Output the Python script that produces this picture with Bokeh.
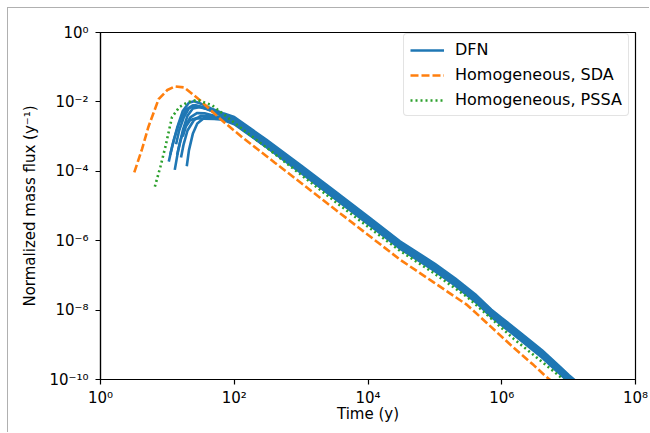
from bokeh.plotting import figure
from bokeh.models import FixedTicker, CustomJSTickFormatter, Legend, LegendItem
from bokeh.embed import file_html
from bokeh.resources import INLINE

# ---------------- data ----------------
# Homogeneous, SDA (orange dashed)
sda_t = [3.2, 4.2, 5.2, 7.4, 10, 13, 18, 31, 62, 132, 400, 1000, 3900,
         30500, 96000, 303000, 603000, 1.35e6, 3.0e6, 4.49e6, 5.6e6]
sda_f = [9.3e-5, 4.5e-4, 1.9e-3, 1.2e-2, 2.2e-2, 2.8e-2, 2.6e-2, 1.1e-2,
         3.2e-3, 9.5e-4, 1.8e-4, 4.6e-5, 6.0e-6, 2.8e-7, 6.3e-8, 1.41e-8,
         4.2e-9, 1.0e-9, 2.6e-10, 1.26e-10, 8.9e-11]

# Homogeneous, PSSA (green dotted)
pssa_t = [6.5, 7.9, 9.3, 11.7, 15.1, 20, 28, 47, 132, 400, 1000, 3900,
          30500, 96000, 303000, 676000, 1.51e6, 3.8e6, 7.6e6, 8.9e6]
pssa_f = [3.6e-5, 1.4e-4, 4.9e-4, 3.6e-3, 7.1e-3, 9.8e-3, 1.15e-2, 7.9e-3,
          1.66e-3, 3.2e-4, 7.9e-5, 1.0e-5, 5.0e-7, 1.17e-7, 2.4e-8, 6.0e-9,
          1.48e-9, 3.5e-10, 1.17e-10, 8.9e-11]

# DFN realisations (blue solid): early part of each curve
dfn_head_t = [
    [10.5, 12, 14, 17, 21, 25, 32, 45, 70],
    [12.9, 14.5, 17, 20, 24, 30, 40, 60],
    [19.5, 21, 24, 28, 35, 45, 60],
    [11, 12.5, 15, 19, 24, 30, 40, 60],
    [14, 15.5, 18, 22, 28, 36, 50, 70],
    [16, 17.5, 20, 25, 32, 42, 60],
    [13.5, 15, 17.5, 21, 26, 33, 45, 65],
    [17, 19, 22, 27, 35, 50, 75],
]
dfn_head_f = [
    [1.9e-4, 6e-4, 1.8e-3, 5.5e-3, 9.5e-3, 1.05e-2, 8.8e-3, 6.5e-3, 4.6e-3],
    [1.1e-4, 4e-4, 1.5e-3, 4e-3, 6.5e-3, 7e-3, 6.2e-3, 4.5e-3],
    [1.4e-4, 4e-4, 1.2e-3, 2.4e-3, 3.4e-3, 3.6e-3, 3.3e-3],
    [3e-4, 8e-4, 2.5e-3, 6e-3, 8e-3, 7.5e-3, 6.2e-3, 4.6e-3],
    [3e-4, 7e-4, 1.8e-3, 3.6e-3, 4.8e-3, 4.7e-3, 4.0e-3, 3.3e-3],
    [2.5e-4, 6e-4, 1.5e-3, 3e-3, 4.0e-3, 4.0e-3, 3.5e-3],
    [6e-4, 1.5e-3, 3.5e-3, 6.5e-3, 8e-3, 7e-3, 5.5e-3, 4e-3],
    [1e-3, 2e-3, 3e-3, 3.4e-3, 3.3e-3, 3.2e-3, 3.0e-3],
]
# DFN realisations: late part (shared times)
dfn_tail_t = [100, 300, 1e3, 3e3, 1e4, 3e4, 1e5, 2e5, 4e5, 7e5,
              1e6, 2e6, 4e6, 7e6, 1e7, 1.3e7]
dfn_tail_f = [
    [3.67e-3, 8.2e-4, 1.46e-4, 2.91e-5, 4.94e-6, 9.63e-7, 2.16e-7, 8.29e-8, 2.85e-8, 1.03e-8, 5.94e-9, 2.06e-9, 6.97e-10, 2.60e-10, 1.36e-10, 8.8e-11],
    [3.24e-3, 7.26e-4, 1.29e-4, 2.58e-5, 4.37e-6, 8.52e-7, 1.91e-7, 7.34e-8, 2.52e-8, 9.13e-9, 5.26e-9, 1.82e-9, 6.17e-10, 2.30e-10, 1.20e-10, 7.8e-11],
    [2.26e-3, 5.05e-4, 8.96e-5, 1.79e-5, 3.04e-6, 5.93e-7, 1.33e-7, 5.10e-8, 1.75e-8, 6.35e-9, 3.66e-9, 1.27e-9, 4.29e-10, 1.60e-10, 8.4e-11, 5.4e-11],
    [3.44e-3, 7.70e-4, 1.37e-4, 2.73e-5, 4.64e-6, 9.04e-7, 2.03e-7, 7.78e-8, 2.67e-8, 9.69e-9, 5.58e-9, 1.93e-9, 6.54e-10, 2.44e-10, 1.28e-10, 8.2e-11],
    [2.54e-3, 5.68e-4, 1.01e-4, 2.02e-5, 3.42e-6, 6.67e-7, 1.49e-7, 5.74e-8, 1.97e-8, 7.15e-9, 4.11e-9, 1.43e-9, 4.83e-10, 1.80e-10, 9.4e-11, 6.1e-11],
    [2.40e-3, 5.36e-4, 9.52e-5, 1.90e-5, 3.23e-6, 6.30e-7, 1.41e-7, 5.42e-8, 1.86e-8, 6.75e-9, 3.88e-9, 1.35e-9, 4.56e-10, 1.70e-10, 8.9e-11, 5.7e-11],
    [2.96e-3, 6.63e-4, 1.18e-4, 2.35e-5, 3.99e-6, 7.78e-7, 1.74e-7, 6.70e-8, 2.30e-8, 8.34e-9, 4.80e-9, 1.66e-9, 5.63e-10, 2.10e-10, 1.10e-10, 7.1e-11],
    [2.68e-3, 5.99e-4, 1.06e-4, 2.13e-5, 3.61e-6, 7.04e-7, 1.58e-7, 6.06e-8, 2.08e-8, 7.54e-9, 4.34e-9, 1.50e-9, 5.09e-10, 1.90e-10, 1.0e-10, 6.4e-11],
]

x_ticks = [1, 1e2, 1e4, 1e6, 1e8]
y_ticks = [1e-10, 1e-8, 1e-6, 1e-4, 1e-2, 1]
x_label = "Time (y)"
y_label = "Normalized mass flux (y\u207b\u00b9)"
legend_labels = ["DFN", "Homogeneous, SDA", "Homogeneous, PSSA"]

# ---------------- figure ----------------
FONT = "DejaVu Sans"
p = figure(width=642, height=425, x_axis_type="log", y_axis_type="log",
           x_range=(1, 1e8), y_range=(1e-10, 1),
           output_backend="svg", toolbar_location=None,
           min_border_left=92, min_border_right=15,
           min_border_top=24, min_border_bottom=54)
p.styles = {"margin-left": "7px", "margin-top": "7px",
            "border-left": "1px solid #b0b0b0", "border-top": "1px solid #b0b0b0"}
p.grid.visible = False
p.outline_line_color = "black"
p.outline_line_width = 1.2
p.background_fill_color = "white"
p.border_fill_color = "white"

fmt = CustomJSTickFormatter(code="""
const e = Math.round(Math.log10(tick));
const sup = {"-":"\u207b","0":"\u2070","1":"\u00b9","2":"\u00b2","3":"\u00b3","4":"\u2074","5":"\u2075","6":"\u2076","7":"\u2077","8":"\u2078","9":"\u2079"};
return "10" + String(e).split("").map(c => sup[c]).join("");
""")

p.xaxis.ticker = FixedTicker(ticks=x_ticks, minor_ticks=[])
p.yaxis.ticker = FixedTicker(ticks=y_ticks, minor_ticks=[])
for ax in (p.xaxis[0], p.yaxis[0]):
    ax.formatter = fmt
    ax.axis_line_color = "black"
    ax.axis_line_width = 1.2
    ax.major_tick_line_color = "black"
    ax.major_tick_line_width = 1.2
    ax.major_tick_out = 5
    ax.major_tick_in = 0
    ax.minor_tick_line_color = None
    ax.major_label_text_font = FONT
    ax.major_label_text_font_size = "15px"
    ax.major_label_text_color = "black"
    ax.axis_label_text_font = FONT
    ax.axis_label_text_font_size = "15px"
    ax.axis_label_text_font_style = "normal"
    ax.axis_label_text_color = "black"
p.xaxis.axis_label = x_label
p.yaxis.axis_label = y_label
p.xaxis.major_label_standoff = 4
p.yaxis.major_label_standoff = 7
p.xaxis.axis_label_standoff = -5
p.yaxis.axis_label_standoff = 7

BLUE, ORANGE, GREEN = "#1f77b4", "#ff7f0e", "#2ca02c"

dfn_renderers = []
for ht, hf, tf in zip(dfn_head_t, dfn_head_f, dfn_tail_f):
    r = p.line(ht + dfn_tail_t, hf + tf, line_color=BLUE, line_width=2.6)
    dfn_renderers.append(r)

r_sda = p.line(sda_t, sda_f, line_color=ORANGE, line_width=2.6, line_dash="8 3")
r_pssa = p.line(pssa_t, pssa_f, line_color=GREEN, line_width=2.6, line_dash="2 3")

legend = Legend(items=[
    LegendItem(label=legend_labels[0], renderers=[dfn_renderers[0]]),
    LegendItem(label=legend_labels[1], renderers=[r_sda]),
    LegendItem(label=legend_labels[2], renderers=[r_pssa]),
], location=(303, 263))
legend.border_line_color = "#c8c8c8"
legend.border_line_width = 1
legend.background_fill_alpha = 0.85
legend.label_text_font = FONT
legend.label_text_font_size = "16px"
legend.label_text_color = "black"
legend.glyph_width = 34
legend.glyph_height = 18
legend.label_height = 18
legend.label_standoff = 11
legend.spacing = 6
legend.padding = 6
legend.margin = 0
if "border_radius" in legend.properties():
    legend.border_radius = 4
p.add_layout(legend)

open("out.html", "w").write(file_html(p, INLINE))
